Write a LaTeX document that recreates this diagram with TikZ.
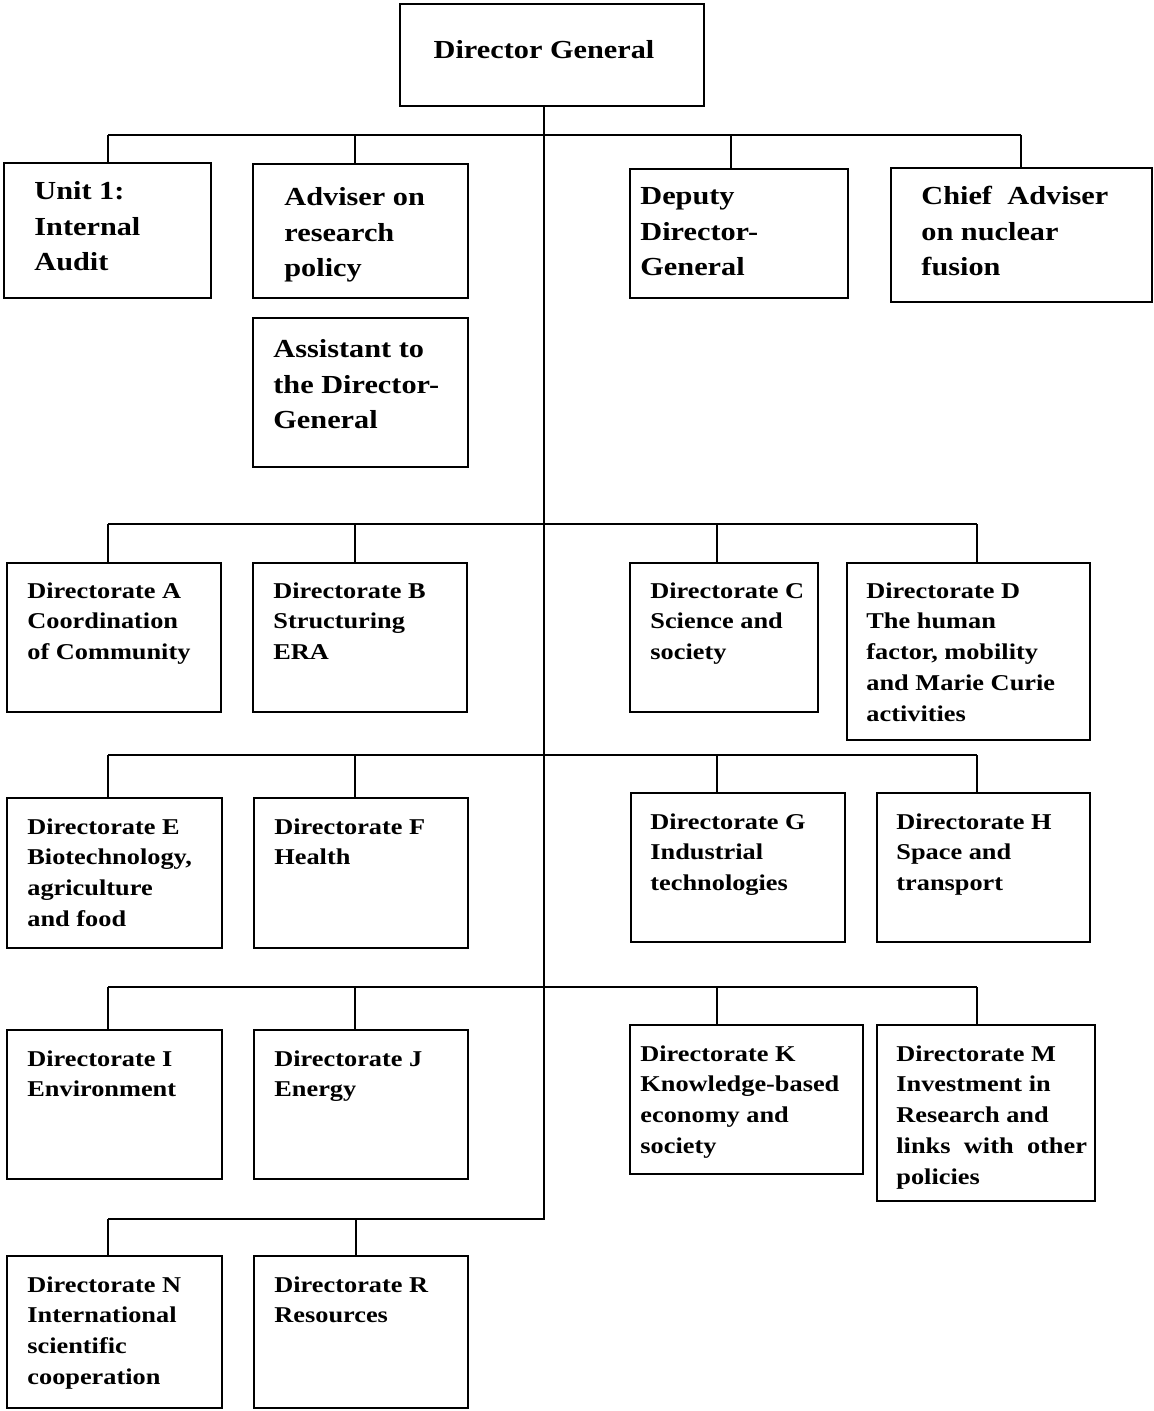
\documentclass[tikz,border=0pt]{standalone}
\usepackage{fontspec}
\setmainfont{Liberation Serif}[FakeStretch=1.165]
\begin{document}
\begin{tikzpicture}[x=0.5pt,y=-0.5pt,
  boxst/.style={draw, line width=0.9pt, inner sep=0pt, outer sep=0pt, anchor=north west},
  topt/.style={anchor=base west, inner sep=0pt, align=left, font=\fontsize{13}{17.75}\selectfont\bfseries},
  dirt/.style={anchor=base west, inner sep=0pt, align=left, font=\fontsize{11.3}{15.4}\selectfont\bfseries},
  conn/.style={line width=0.9pt}]
\useasboundingbox (0,0) rectangle (1153,1411);
\newcommand{\obox}[5]{\node[boxst, minimum width={(#4-#2)*0.5pt}, minimum height={(#5-#3)*0.5pt}] (#1) at (#2,#3) {};}
% boxes
\obox{dg}{400}{4}{704}{106}
\obox{u1}{4}{163}{211}{298}
\obox{adv}{253}{164}{468}{298}
\obox{asst}{253}{318}{468}{467}
\obox{dep}{630}{169}{848}{298}
\obox{chief}{891}{168}{1152}{302}
\obox{dA}{7}{563}{221}{712}
\obox{dB}{253}{563}{467}{712}
\obox{dC}{630}{563}{818}{712}
\obox{dD}{847}{563}{1090}{740}
\obox{dE}{7}{798}{222}{948}
\obox{dF}{254}{798}{468}{948}
\obox{dG}{631}{793}{845}{942}
\obox{dH}{877}{793}{1090}{942}
\obox{dI}{7}{1030}{222}{1179}
\obox{dJ}{254}{1030}{468}{1179}
\obox{dK}{630}{1025}{863}{1174}
\obox{dM}{877}{1025}{1095}{1201}
\obox{dN}{7}{1256}{222}{1408}
\obox{dR}{254}{1256}{468}{1408}
% texts (anchored at the baseline of the last line)
\node[anchor=base, inner sep=0pt, font=\fontsize{13}{17.75}\selectfont\bfseries] (tdg) at (544,59) {Director General};
\node[topt] (tu1) at (34,271) {Unit 1:\\Internal\\Audit};
\node[topt] (tadv) at (284,277) {Adviser on\\research\\policy};
\node[topt] (tasst) at (273,429) {Assistant to\\the Director-\\General};
\node[topt] (tdep) at (640,276) {Deputy\\Director-\\General};
\node[topt] (tchief) at (921,276) {Chief\hspace{0.3em} Adviser\\on nuclear\\fusion};
\node[dirt] (tA) at (27,659.6) {Directorate A\\Coordination\\of Community};
\node[dirt] (tB) at (273,659.6) {Directorate B\\Structuring\\ERA};
\node[dirt] (tC) at (650,659.6) {Directorate C\\Science and\\society};
\node[dirt] (tD) at (866,721.2) {Directorate D\\The human\\factor, mobility\\and Marie Curie\\activities};
\node[dirt] (tE) at (27,926.4) {Directorate E\\Biotechnology,\\agriculture\\and food};
\node[dirt] (tF) at (274,864.8) {Directorate F\\Health};
\node[dirt] (tG) at (650,890.6) {Directorate G\\Industrial\\technologies};
\node[dirt] (tH) at (896,890.6) {Directorate H\\Space and\\transport};
\node[dirt] (tI) at (27,1096.8) {Directorate I\\Environment};
\node[dirt] (tJ) at (274,1096.8) {Directorate J\\Energy};
\node[dirt] (tK) at (640,1153.4) {Directorate K\\Knowledge-based\\economy and\\society};
\node[dirt] (tM) at (896,1184.2) {Directorate M\\Investment in\\Research and\\links\hspace{0.3em} with\hspace{0.3em} other\\policies};
\node[dirt] (tN) at (27,1384.4) {Directorate N\\International\\scientific\\cooperation};
\node[dirt] (tR) at (274,1322.8) {Directorate R\\Resources};
% bus coordinates
\coordinate (trunkend) at (544,1219);
\coordinate (b1L) at (108,135); \coordinate (b1R) at (1021,135);
\coordinate (b2L) at (108,524); \coordinate (b2R) at (977,524);
\coordinate (b3L) at (108,755); \coordinate (b3R) at (977,755);
\coordinate (b4L) at (108,987); \coordinate (b4R) at (977,987);
\coordinate (b5L) at (108,1219);
% drop points
\coordinate (pu1) at (108,135); \coordinate (padv) at (355,135); \coordinate (pdep) at (731,135); \coordinate (pchief) at (1021,135);
\coordinate (pA) at (108,524); \coordinate (pB) at (355,524); \coordinate (pC) at (717,524); \coordinate (pD) at (977,524);
\coordinate (pE) at (108,755); \coordinate (pF) at (355,755); \coordinate (pG) at (717,755); \coordinate (pH) at (977,755);
\coordinate (pI) at (108,987); \coordinate (pJ) at (355,987); \coordinate (pK) at (717,987); \coordinate (pM) at (977,987);
\coordinate (pN) at (108,1219); \coordinate (pR) at (356,1219);
% connectors
\draw[conn] (trunkend |- dg.south) -- (trunkend) -- (b5L);
\draw[conn] (b1L) -- (b1R);
\draw[conn] (b2L) -- (b2R);
\draw[conn] (b3L) -- (b3R);
\draw[conn] (b4L) -- (b4R);
\foreach \p/\b in {pu1/u1,padv/adv,pdep/dep,pchief/chief,pA/dA,pB/dB,pC/dC,pD/dD,pE/dE,pF/dF,pG/dG,pH/dH,pI/dI,pJ/dJ,pK/dK,pM/dM,pN/dN,pR/dR}
  \draw[conn] (\p) -- (\p |- \b.north);
\end{tikzpicture}
\end{document}
